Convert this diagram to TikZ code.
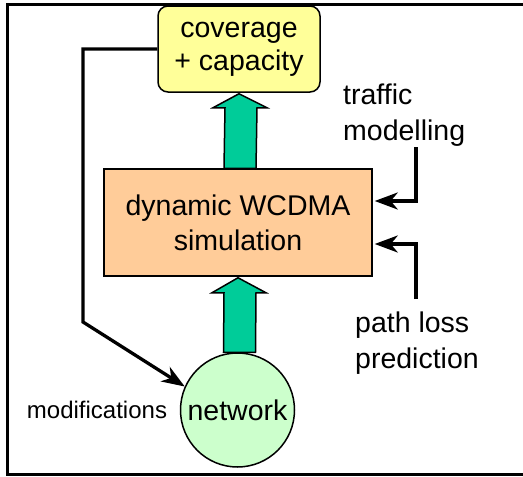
\documentclass[tikz,border=0pt]{standalone}
\usepackage{fontspec}
\setmainfont{Liberation Sans}
\usetikzlibrary{arrows.meta,calc}
\definecolor{covfill}{HTML}{FFFF99}
\definecolor{simfill}{HTML}{FFCC99}
\definecolor{netfill}{HTML}{CCFFCC}
\definecolor{fatgreen}{HTML}{00CC99}
\tikzset{
  bigtext/.style={font=\fontsize{28.5}{33}\selectfont},
  covbox/.style={draw, line width=1.5pt, fill=covfill, rounded corners=10pt, minimum width=162pt, minimum height=86pt, inner sep=0pt, align=center, bigtext},
  simbox/.style={draw, line width=1.5pt, fill=simfill, minimum width=268pt, minimum height=107pt, inner sep=0pt, align=center, font=\fontsize{28.5}{35}\selectfont},
  netcircle/.style={draw, line width=1.5pt, fill=netfill, circle, minimum size=114pt, inner sep=0pt, bigtext},
  fatarrow/.style={draw, line width=1.5pt, fill=fatgreen, line join=miter},
  conn/.style={draw, line width=3.3pt, -{Stealth[length=23pt,width=17pt,inset=7pt]}},
  label/.style={align=left, inner sep=0pt, font=\fontsize{28.5}{36.5}\selectfont},
}
\begin{document}
\begin{tikzpicture}[x=1pt,y=-1pt]
\useasboundingbox (0,0) rectangle (523,477);
% frame
\draw[line width=3pt] (540,4.5) -- (7.5,4.5) -- (7.5,474.5) -- (540,474.5);
% nodes
\node[covbox] (cov) at (239,49) {coverage\\+ capacity};
\node[simbox] (sim) at (238,222.5) {dynamic WCDMA\\simulation};
\node[netcircle] (net) at (237.5,410) {network};
% fat arrows
\path[fatarrow] ($(sim.north)+(-14,0)$) -- ($(cov.south)+(-14,15)$) -- ($(cov.south)+(-26,15)$)
   -- ($(cov.south)+(0,1)$) -- ($(cov.south)+(28,15)$) -- ($(cov.south)+(18,15)$) -- ($(sim.north)+(18,0)$) -- cycle;
\path[fatarrow] ($(net.north)+(-14,0)$) -- ($(sim.south)+(-14,16)$) -- ($(sim.south)+(-26,16)$)
   -- ($(sim.south)+(0,1)$) -- ($(sim.south)+(28,16)$) -- ($(sim.south)+(18,16)$) -- ($(net.north)+(18,0)$) -- cycle;
% feedback
\coordinate (fb1) at (83,49);
\coordinate (fb2) at (83,322);
\draw[conn] (cov.west) -- (fb1) -- (fb2) -- (net.156);
% inputs
\coordinate (tr) at (416,147);
\coordinate (pl) at (416,299);
\draw[conn] (tr) |- ($(sim.east)+(2,-21.5)$);
\draw[conn] (pl) |- ($(sim.east)+(2,21.5)$);
% labels
\node[label, anchor=west] (trl) at (343,115) {traffic\\modelling};
\node[label, anchor=west] (pll) at (355,343) {path loss\\prediction};
\node[inner sep=0pt, font=\fontsize{24}{28}\selectfont] (mod) at (97,410) {modifications};
\end{tikzpicture}
\end{document}
